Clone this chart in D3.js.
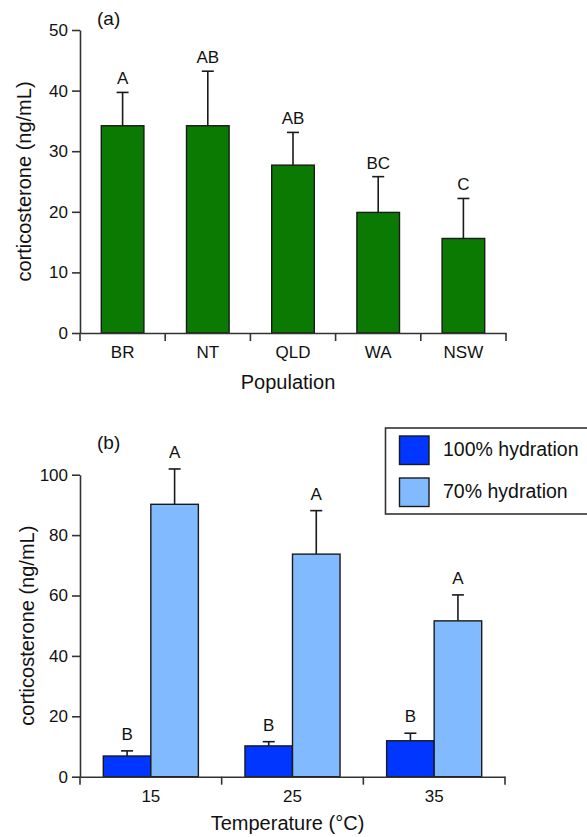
<!DOCTYPE html>
<html>
<head>
<meta charset="utf-8">
<script src="https://cdn.jsdelivr.net/npm/d3@7"></script>
<style>
  html, body { margin: 0; padding: 0; background: #fff; }
  svg { display: block; font-family: "Liberation Sans", Arial, sans-serif; }
</style>
</head>
<body>
<svg id="chart" width="587" height="837"></svg>
<script>
// Panel (a): population
const populations = ["BR", "NT", "QLD", "WA", "NSW"];
const popMeans = [34.2, 34.2, 27.7, 19.9, 15.6];
const popErrors = [5.5, 9.0, 5.4, 5.9, 6.6];
const popLetters = ["A", "AB", "AB", "BC", "C"];
const popTicks = [0, 10, 20, 30, 40, 50];

// Panel (b): temperature x hydration
const temperatures = ["15", "25", "35"];
const hydrationSeries = ["100% hydration", "70% hydration"];
const hydration100 = [6.85, 10.2, 11.9];
const hydration100Err = [1.7, 1.4, 2.5];
const hydration70 = [90.2, 73.7, 51.6];
const hydration70Err = [11.7, 14.4, 8.6];
const tempLetters100 = ["B", "B", "B"];
const tempLetters70 = ["A", "A", "A"];
const tempTicks = [0, 20, 40, 60, 80, 100];

const colors = {
  green: "#0b7a03",
  dark: "#0036ff",
  light: "#82baff",
  axis: "#333",
  outline: "#1a1a1a",
};

const svg = d3.select("#chart");

function drawAxes(g, x, y, ticks, bandEdges, opts) {
  const [x0, x1] = x.range();
  // y axis
  const yAxis = g.append("g")
    .attr("transform", `translate(${x0},0)`)
    .call(d3.axisLeft(y).tickValues(ticks).tickSize(8).tickSizeOuter(0).tickPadding(4));
  yAxis.select(".domain").attr("stroke", colors.axis).attr("stroke-width", 1.6);
  yAxis.selectAll(".tick line").attr("stroke", colors.axis).attr("stroke-width", 1.6);
  yAxis.selectAll("text").attr("font-size", 17).attr("fill", "#111");

  // x axis with category labels centred in bands
  const xAxis = g.append("g")
    .attr("transform", `translate(0,${y(0)})`)
    .call(d3.axisBottom(x).tickSize(0).tickSizeOuter(0).tickPadding(13));
  xAxis.select(".domain").attr("stroke", colors.axis).attr("stroke-width", 1.6);
  xAxis.selectAll("text").attr("font-size", 17).attr("fill", "#111");

  // boundary ticks between categories
  g.append("g").selectAll("line")
    .data(bandEdges)
    .join("line")
    .attr("x1", d => d).attr("x2", d => d)
    .attr("y1", y(0)).attr("y2", y(0) + 8)
    .attr("stroke", colors.axis)
    .attr("stroke-width", 1.6);

  g.append("text")
    .attr("x", (x0 + x1) / 2 - 5)
    .attr("y", opts.xTitleY)
    .attr("text-anchor", "middle")
    .attr("font-size", 20)
    .attr("fill", "#111")
    .text(opts.xTitle);

  const yMid = (y.range()[0] + y.range()[1]) / 2;
  g.append("text")
    .attr("transform", `translate(${opts.yTitleX},${yMid}) rotate(-90)`)
    .attr("text-anchor", "middle")
    .attr("font-size", 20)
    .attr("fill", "#111")
    .text("corticosterone (ng/mL)");

  g.append("text")
    .attr("x", 97)
    .attr("y", opts.tagY)
    .attr("font-size", 19)
    .attr("fill", "#111")
    .text(opts.tag);
}

function drawErrorBar(g, cx, yTop, yErr) {
  g.append("line")
    .attr("x1", cx).attr("x2", cx)
    .attr("y1", yTop).attr("y2", yErr)
    .attr("stroke", colors.outline).attr("stroke-width", 1.6);
  g.append("line")
    .attr("x1", cx - 6).attr("x2", cx + 6)
    .attr("y1", yErr).attr("y2", yErr)
    .attr("stroke", colors.outline).attr("stroke-width", 1.6);
}

// ---- Panel (a) ----
{
  const g = svg.append("g");
  const x = d3.scaleBand().domain(populations).range([80, 506]).padding(0);
  const y = d3.scaleLinear().domain([0, 50]).range([333, 30]);
  const bw = x.bandwidth() * 0.5;

  populations.forEach((p, i) => {
    const cx = x(p) + x.bandwidth() / 2;
    drawErrorBar(g, cx, y(popMeans[i]), y(popMeans[i] + popErrors[i]));
    g.append("rect")
      .attr("x", cx - bw / 2)
      .attr("y", y(popMeans[i]))
      .attr("width", bw)
      .attr("height", y(0) - y(popMeans[i]))
      .attr("fill", colors.green)
      .attr("stroke", colors.outline)
      .attr("stroke-width", 1.4);
    g.append("text")
      .attr("x", cx)
      .attr("y", y(popMeans[i] + popErrors[i]) - 8)
      .attr("text-anchor", "middle")
      .attr("font-size", 17)
      .attr("fill", "#111")
      .text(popLetters[i]);
  });

  const edges = populations.map(p => x(p)).concat([x.range()[1]]);
  drawAxes(g, x, y, popTicks, edges, {
    xTitle: "Population", xTitleY: 389, yTitleX: 31, tag: "(a)", tagY: 25,
  });
}

// ---- Panel (b) ----
{
  const g = svg.append("g");
  const x = d3.scaleBand().domain(temperatures).range([80, 505]).padding(0);
  const y = d3.scaleLinear().domain([0, 100]).range([776.7, 474.7]);
  const inner = d3.scaleBand().domain(hydrationSeries)
    .range([0, x.bandwidth()]).paddingInner(0).paddingOuter(0.49);
  const series = [
    { key: hydrationSeries[0], vals: hydration100, errs: hydration100Err, letters: tempLetters100, fill: colors.dark },
    { key: hydrationSeries[1], vals: hydration70, errs: hydration70Err, letters: tempLetters70, fill: colors.light },
  ];

  temperatures.forEach((t, i) => {
    series.forEach(s => {
      const bx = x(t) + inner(s.key);
      const cx = bx + inner.bandwidth() / 2;
      drawErrorBar(g, cx, y(s.vals[i]), y(s.vals[i] + s.errs[i]));
      g.append("rect")
        .attr("x", bx)
        .attr("y", y(s.vals[i]))
        .attr("width", inner.bandwidth())
        .attr("height", y(0) - y(s.vals[i]))
        .attr("fill", s.fill)
        .attr("stroke", colors.outline)
        .attr("stroke-width", 1.4);
      g.append("text")
        .attr("x", cx)
        .attr("y", y(s.vals[i] + s.errs[i]) - 11)
        .attr("text-anchor", "middle")
        .attr("font-size", 17)
        .attr("fill", "#111")
        .text(s.letters[i]);
    });
  });

  const edges = temperatures.map(t => x(t)).concat([x.range()[1]]);
  drawAxes(g, x, y, tempTicks, edges, {
    xTitle: "Temperature (\u00B0C)", xTitleY: 830, yTitleX: 34, tag: "(b)", tagY: 449,
  });

  // legend
  const lg = g.append("g");
  lg.append("rect")
    .attr("x", 385.5).attr("y", 428)
    .attr("width", 260).attr("height", 86)
    .attr("fill", "#fff")
    .attr("stroke", colors.axis).attr("stroke-width", 1.6);
  series.forEach((s, i) => {
    lg.append("rect")
      .attr("x", 399.5).attr("y", 436 + i * 42)
      .attr("width", 29.5).attr("height", 28.5)
      .attr("fill", s.fill)
      .attr("stroke", colors.outline).attr("stroke-width", 1.4);
    lg.append("text")
      .attr("x", 443).attr("y", 455.5 + i * 42.5)
      .attr("font-size", 19.5)
      .attr("fill", "#111")
      .text(s.key);
  });
}
</script>
</body>
</html>
